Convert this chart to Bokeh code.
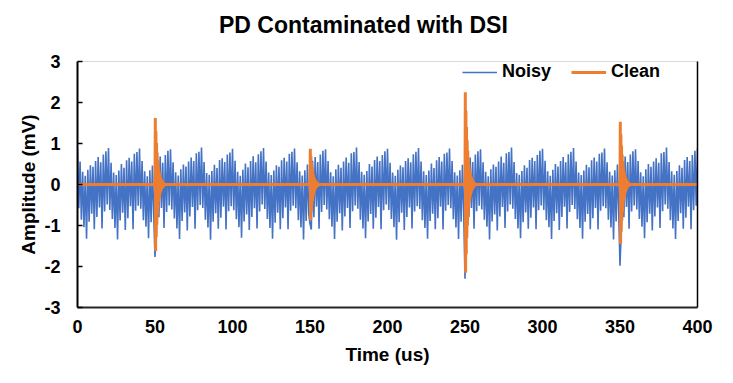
import numpy as np
from bokeh.plotting import figure
from bokeh.layouts import column
from bokeh.models import FixedTicker, LinearAxis, Legend, LegendItem, Range1d, CustomJSTickFormatter, Div
from bokeh.embed import file_html
from bokeh.resources import INLINE

# ---------------- data ----------------
title_text = "PD Contaminated with DSI"

# Noisy signal (DSI + PD), alternating crest / trough values, 0..400 us
noisy_rows = [
    [0.87,-0.58, 0.56,-0.86, 0.31,-1.04, 0.21,-1.32, 0.36,-0.91, 0.47,-0.71, 0.43,-1.09, 0.57,-0.79, 0.67,-0.56, 0.54,-1.07, 0.73,-0.66, 0.81,-0.49],
    [0.89,-0.62, 0.53,-0.84, 0.29,-1.06, 0.23,-1.34, 0.34,-0.88, 0.50,-0.69, 0.41,-1.11, 0.59,-0.82, 0.65,-0.53, 0.56,-1.09, 0.75,-0.64, 0.79,-0.52],
    [0.88,-0.59, 0.57,-0.87, 0.32,-1.03, 0.20,-1.31, 0.35,-0.92, 0.46,-0.72,-1.77,-1.10, 0.58,-0.80, 0.68,-0.57, 0.53,-1.06, 0.72,-0.67, 0.82,-0.51],
    [0.86,-0.61, 0.54,-0.83, 0.30,-1.07, 0.22,-1.33, 0.37,-0.89, 0.49,-0.68, 0.44,-1.12, 0.56,-0.78, 0.66,-0.55, 0.57,-1.08, 0.76,-0.63, 0.80,-0.50],
    [0.90,-0.57, 0.55,-0.86, 0.28,-1.05, 0.24,-1.35, 0.33,-0.91, 0.48,-0.70, 0.40,-1.08, 0.60,-0.81, 0.64,-0.54, 0.55,-1.10, 0.73,-0.65, 0.78,-0.53],
    [0.87,-0.63, 0.58,-0.85, 0.31,-1.04, 0.21,-1.30, 0.36,-0.90, 0.51,-0.73, 0.42,-1.11, 0.57,-0.79, 0.69,-0.58, 0.54,-1.07, 0.74,-0.66, 0.81,-0.49],
    [0.89,-0.60, 0.56,-0.84, 0.29,-1.06, 0.23,-1.32, 0.34,-0.93, 0.47,-0.69, 0.43,-1.09, 0.59,-0.82, 0.65,-0.56, 0.56,-1.09, 0.75,-0.64, 0.80,-0.52],
    [0.88,-0.58, 0.54,-0.87, 0.32,-1.05, 0.22,-1.34, 0.35,-0.89, 0.49,-0.71,-0.96,-1.10, 0.58,-0.80, 0.67,-0.54, 0.55,-1.08, 0.73,-0.67, 0.82,-0.50],
    [0.86,-0.61, 0.57,-0.85, 0.30,-1.03, 0.20,-1.33, 0.37,-0.91, 0.48,-0.70, 0.41,-1.12, 0.56,-0.78, 0.66,-0.57, 0.53,-1.06, 0.76,-0.65, 0.79,-0.51],
    [0.90,-0.59, 0.55,-0.86, 0.31,-1.07, 0.24,-1.31, 0.33,-0.90, 0.50,-0.72, 0.44,-1.08, 0.60,-0.81, 0.68,-0.55, 0.57,-1.09, 0.72,-0.63, 0.81,-0.49],
    [0.87,-0.62, 0.53,-0.84, 0.29,-1.04, 0.21,-1.35, 0.36,-0.92, 0.46,-0.69, 0.42,-1.11, 0.57,-0.79, 0.64,-0.56, 0.54,-1.07, 0.74,-0.66, 0.80,-0.53],
    [0.89,-0.60, 0.56,-0.87, 0.32,-1.06, 0.23,-1.32, 0.34,-0.89, 0.51,-0.71, 0.40,-1.09, 0.59,-0.82, 0.67,-0.54, 0.56,-1.10, 0.75,-0.64, 0.78,-0.50],
    [0.88,-0.58, 0.57,-0.85, 0.30,-1.05, 0.22,-1.33, 0.35,-0.91, 0.48,-0.70,-2.30,-1.10, 0.58,-0.80, 0.66,-0.57, 0.55,-1.08, 0.73,-0.65, 0.81,-0.52],
    [0.86,-0.61, 0.54,-0.86, 0.31,-1.03, 0.20,-1.34, 0.37,-0.90, 0.49,-0.73, 0.43,-1.12, 0.56,-0.78, 0.68,-0.55, 0.53,-1.06, 0.76,-0.66, 0.79,-0.49],
    [0.90,-0.59, 0.55,-0.84, 0.28,-1.07, 0.24,-1.31, 0.33,-0.92, 0.47,-0.68, 0.41,-1.08, 0.60,-0.81, 0.65,-0.56, 0.57,-1.09, 0.72,-0.63, 0.82,-0.51],
    [0.87,-0.62, 0.58,-0.87, 0.32,-1.04, 0.21,-1.33, 0.36,-0.89, 0.50,-0.70, 0.44,-1.11, 0.57,-0.79, 0.67,-0.54, 0.54,-1.07, 0.74,-0.67, 0.80,-0.50],
    [0.89,-0.60, 0.56,-0.85, 0.29,-1.06, 0.23,-1.32, 0.34,-0.91, 0.48,-0.72, 0.42,-1.09, 0.59,-0.82, 0.66,-0.57, 0.56,-1.10, 0.75,-0.64, 0.78,-0.53],
    [0.88,-0.58, 0.54,-0.86, 0.31,-1.05, 0.22,-1.34, 0.35,-0.90, 0.49,-0.69,-1.98,-1.10, 0.58,-0.80, 0.68,-0.55, 0.55,-1.08, 0.73,-0.66, 0.81,-0.51],
    [0.86,-0.61, 0.57,-0.84, 0.30,-1.03, 0.20,-1.31, 0.37,-0.92, 0.50,-0.71, 0.43,-1.12, 0.56,-0.78, 0.64,-0.56, 0.53,-1.06, 0.76,-0.65, 0.79,-0.49],
    [0.90,-0.59, 0.55,-0.87, 0.32,-1.07, 0.24,-1.33, 0.33,-0.89, 0.47,-0.70, 0.41,-1.08, 0.60,-0.81, 0.67,-0.54, 0.57,-1.09, 0.72,-0.63, 0.82,-0.52],
]
noisy_last = [0.88]

# Clean PD pulses (damped oscillations), sampled every 0.2 us from each start time
pulse_start = [50, 150, 250, 350]
pulse_50 = [0, 1.62, -1.62, 1.30, -1.28, 1.01, -0.98, 0.78, -0.75, 0.59, -0.57, 0.45, -0.43, 0.35, -0.33, 0.27, -0.25, 0.21,
            -0.19, 0.16, -0.15, 0.12, -0.11, 0.10, -0.09, 0.07, -0.07, 0.06, -0.05, 0.04, -0.04, 0.03, -0.03, 0.02, -0.02, 0]
pulse_150 = [0, 0.87, -0.87, 0.70, -0.68, 0.54, -0.52, 0.42, -0.40, 0.32, -0.30, 0.24, -0.23, 0.19, -0.18, 0.14, -0.13, 0.11,
             -0.10, 0.09, -0.08, 0.07, -0.06, 0.05, -0.05, 0.04, -0.04, 0.03, -0.03, 0.02, -0.02, 0.02, -0.01, 0.01, -0.01, 0]
pulse_250 = [0, 2.25, -2.15, 1.80, -1.70, 1.40, -1.30, 1.08, -1.00, 0.82, -0.76, 0.62, -0.58, 0.48, -0.44, 0.37, -0.34, 0.29,
             -0.26, 0.22, -0.20, 0.17, -0.15, 0.13, -0.12, 0.10, -0.09, 0.08, -0.07, 0.06, -0.05, 0.04, -0.04, 0.03, -0.02, 0]
pulse_350 = [0, 1.53, -1.45, 1.22, -1.15, 0.95, -0.88, 0.73, -0.68, 0.56, -0.52, 0.43, -0.39, 0.33, -0.30, 0.25, -0.23, 0.20,
             -0.18, 0.15, -0.14, 0.12, -0.10, 0.09, -0.08, 0.07, -0.06, 0.05, -0.05, 0.04, -0.03, 0.03, -0.03, 0.02, -0.01, 0]
pulse_dt = 0.2

x_ticks = [0, 50, 100, 150, 200, 250, 300, 350, 400]
y_ticks = [-3, -2, -1, 0, 1, 2, 3]

# ---------------- build series ----------------
noisy_v = [v for row in noisy_rows for v in row] + noisy_last
noisy_t = np.linspace(0, 400, len(noisy_v))

clean_t = [0.0]
clean_v = [0.0]
for s, vals in zip(pulse_start, [pulse_50, pulse_150, pulse_250, pulse_350]):
    clean_t += list(s + np.arange(len(vals)) * pulse_dt)
    clean_v += vals
clean_t.append(400.0)
clean_v.append(0.0)

BLUE = "#4472C4"
ORANGE = "#ED7D31"
FONT = "Liberation Sans"

TITLE_H = 40
title_div = Div(text=title_text, width=717, height=TITLE_H, margin=(0, 0, 0, 0),
                styles={"font-family": "'Liberation Sans', Arial, sans-serif", "font-size": "23px",
                        "font-weight": "bold", "color": "#000000", "padding-top": "12px",
                        "padding-left": "219px", "line-height": "normal", "white-space": "nowrap"})

p = figure(width=717, height=367 - TITLE_H, output_backend="svg", toolbar_location=None,
           x_range=Range1d(0, 400), y_range=Range1d(-3, 3),
           min_border_left=77, min_border_right=20, min_border_top=61 - TITLE_H, min_border_bottom=58)

r_noisy = p.line(noisy_t, noisy_v, line_color=BLUE, line_width=1.6)
r_clean = p.line(clean_t, clean_v, line_color=ORANGE, line_width=3)

p.outline_line_color = "#d9d9d9"
p.outline_line_width = 1
p.xgrid.visible = False
p.ygrid.visible = False
p.background_fill_color = "white"
p.border_fill_color = "white"

xa = p.xaxis[0]
xa.ticker = FixedTicker(ticks=x_ticks)
xa.formatter = CustomJSTickFormatter(code="return tick.toFixed(0);")
xa.major_tick_in = 0
xa.major_tick_out = 0
xa.minor_tick_line_color = None
xa.axis_line_color = "#262626"
xa.axis_line_width = 2
xa.major_label_text_font = FONT
xa.major_label_text_font_size = "18px"
xa.major_label_text_font_style = "bold"
xa.major_label_text_color = "#000000"
xa.major_label_standoff = 12
xa.axis_label = "Time (us)"
xa.axis_label_text_font = FONT
xa.axis_label_text_font_size = "19px"
xa.axis_label_text_font_style = "bold"
xa.axis_label_text_color = "#000000"
xa.axis_label_standoff = 8

ya = p.yaxis[0]
ya.ticker = FixedTicker(ticks=y_ticks)
ya.formatter = CustomJSTickFormatter(code="return tick.toFixed(0);")
ya.major_tick_in = 5
ya.major_tick_out = 0
ya.major_tick_line_color = "#000000"
ya.major_tick_line_width = 1.5
ya.minor_tick_line_color = None
ya.axis_line_color = "#000000"
ya.axis_line_width = 2
ya.major_label_text_font = FONT
ya.major_label_text_font_size = "18px"
ya.major_label_text_font_style = "bold"
ya.major_label_text_color = "#000000"
ya.major_label_standoff = 17
ya.axis_label = "Amplitude (mV)"
ya.axis_label_text_font = FONT
ya.axis_label_text_font_size = "19px"
ya.axis_label_text_font_style = "bold"
ya.axis_label_text_color = "#000000"
ya.axis_label_standoff = 2

ra = LinearAxis(ticker=FixedTicker(ticks=[]), major_label_text_font_size="0px",
                major_tick_in=0, major_tick_out=0, minor_tick_line_color=None,
                axis_line_color="#000000", axis_line_width=1.5)
p.add_layout(ra, "right")

legend = Legend(items=[LegendItem(label="Noisy", renderers=[r_noisy]),
                       LegendItem(label="Clean", renderers=[r_clean])],
                orientation="horizontal", location=(385, 225),
                padding=0, margin=0, spacing=20, label_standoff=5,
                glyph_width=35, glyph_height=20, label_height=20,
                border_line_color=None, background_fill_alpha=0,
                label_text_font=FONT, label_text_font_size="18px",
                label_text_font_style="bold", label_text_color="#000000")
p.add_layout(legend)

layout = column(title_div, p, spacing=0)
open("out.html", "w").write(file_html(layout, INLINE))
